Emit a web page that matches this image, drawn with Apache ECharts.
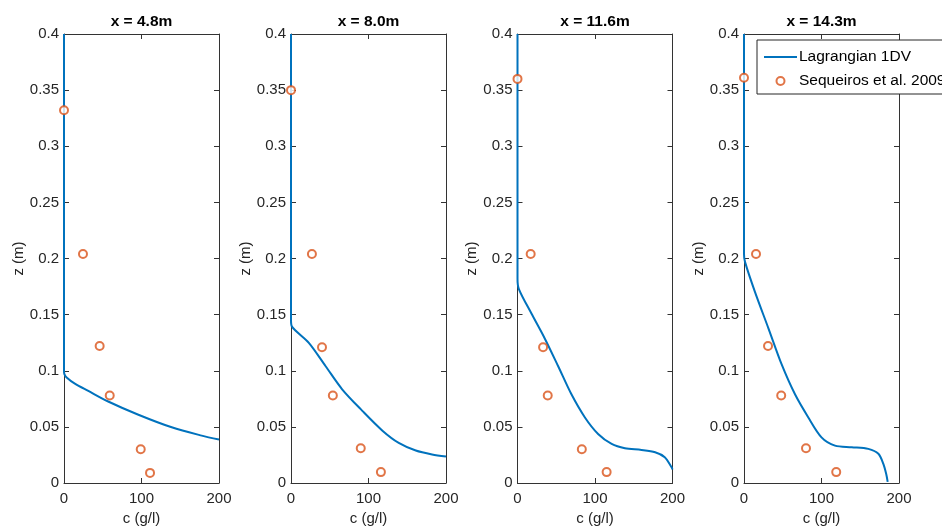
<!DOCTYPE html>
<html>
<head>
<meta charset="utf-8">
<script src="https://cdn.jsdelivr.net/npm/echarts@6/dist/echarts.min.js"></script>
<style>html,body{margin:0;padding:0;background:#fff}#c{width:942px;height:531px}</style>
</head>
<body>
<div id="c"></div>
<script>
// ---- data ----
var panelTitles = ['x = 4.8m', 'x = 8.0m', 'x = 11.6m', 'x = 14.3m'];
var xTicks = [0, 100, 200];
var yTicks = [0, 0.05, 0.1, 0.15, 0.2, 0.25, 0.3, 0.35, 0.4];

// Lagrangian 1DV model profiles (c in g/l, z in m)
var model1C = [0, 0, 0.5, 3.4, 14, 31.4, 57, 96, 139, 177.7, 200];
var model1Z = [0.4, 0.1, 0.097, 0.094, 0.0885, 0.082, 0.0726, 0.0608, 0.0496, 0.0422, 0.0387];
var model2C = [0, 0, 1.5, 23, 44.7, 66, 92, 118, 139, 161, 182, 200];
var model2Z = [0.4, 0.145, 0.139, 0.1248, 0.104, 0.0835, 0.0643, 0.0466, 0.0357, 0.0289, 0.0254, 0.0236];
var model3C = [0, 0, 1.8, 18, 35, 52.5, 69.6, 87, 104, 121.5, 138.6, 160, 177.6, 190, 198.6, 200];
var model3Z = [0.4, 0.182, 0.1728, 0.151, 0.129, 0.104, 0.079, 0.0584, 0.0437, 0.0348, 0.031, 0.0295, 0.0274, 0.023, 0.0142, 0.012];
var model4C = [0, 0, 1.3, 14, 31.4, 48.6, 65.8, 83, 100, 117.4, 139, 160.4, 173.4, 179.8, 183.5, 185.4];
var model4Z = [0.4, 0.204, 0.197, 0.1705, 0.138, 0.1056, 0.079, 0.0584, 0.0407, 0.0333, 0.0319, 0.0304, 0.026, 0.017, 0.008, 0.001];

// Sequeiros et al. 2009 measurements
var obs1C = [0, 24.5, 46, 59, 99, 111];
var obs1Z = [0.332, 0.204, 0.122, 0.078, 0.030, 0.009];
var obs2C = [0, 27, 40, 54, 90, 116];
var obs2Z = [0.350, 0.204, 0.121, 0.078, 0.031, 0.0097];
var obs3C = [0, 17, 33, 39, 83, 115];
var obs3Z = [0.360, 0.204, 0.121, 0.078, 0.030, 0.0097];
var obs4C = [0, 15.5, 31, 48, 80, 119];
var obs4Z = [0.361, 0.204, 0.122, 0.078, 0.031, 0.0097];

var modelC = [model1C, model2C, model3C, model4C];
var modelZ = [model1Z, model2Z, model3Z, model4Z];
var obsC = [obs1C, obs2C, obs3C, obs4C];
var obsZ = [obs1Z, obs2Z, obs3Z, obs4Z];

// ---- layout ----
var FONT = '"Liberation Sans", Arial, Helvetica, sans-serif';
var AX = '#333333';
var TXT = '#262626';
var gridLefts = [64, 291, 517.5, 744];
var gridW = 155, gridTop = 34, gridH = 452;

function pairs(a, b) { return a.map(function (v, i) { return [v, b[i]]; }); }

var grids = [], xAxes = [], yAxes = [], series = [], graphics = [];
for (var i = 0; i < 4; i++) {
  grids.push({ left: gridLefts[i], top: gridTop, width: gridW, height: gridH, containLabel: false });
  var tickCommon = { show: true, inside: true, length: 5, lineStyle: { color: AX, width: 1 } };
  xAxes.push({
    type: 'value', gridIndex: i, position: 'bottom', min: xTicks[0], max: xTicks[xTicks.length - 1], interval: 100,
    axisLine: { show: true, onZero: false, lineStyle: { color: AX, width: 1 } },
    axisTick: tickCommon, splitLine: { show: false },
    axisLabel: { color: TXT, fontSize: 15, fontFamily: FONT, margin: 8 },
    name: 'c (g/l)', nameLocation: 'middle', nameGap: 28,
    nameTextStyle: { color: TXT, fontSize: 15, fontFamily: FONT }
  });
  xAxes.push({
    type: 'value', gridIndex: i, position: 'top', min: 0, max: 200, interval: 100,
    axisLine: { show: true, onZero: false, lineStyle: { color: AX, width: 1 } },
    axisTick: tickCommon, splitLine: { show: false }, axisLabel: { show: false }
  });
  yAxes.push({
    type: 'value', gridIndex: i, position: 'left', min: yTicks[0], max: yTicks[yTicks.length - 1], interval: 0.05,
    axisLine: { show: true, onZero: false, lineStyle: { color: AX, width: 1 } },
    axisTick: tickCommon, splitLine: { show: false },
    axisLabel: { color: TXT, fontSize: 15, fontFamily: FONT, margin: 5 },
    name: 'z (m)', nameLocation: 'middle', nameGap: 34,
    nameTextStyle: { color: TXT, fontSize: 15, fontFamily: FONT }
  });
  yAxes.push({
    type: 'value', gridIndex: i, position: 'right', min: 0, max: 0.4, interval: 0.05,
    axisLine: { show: true, onZero: false, lineStyle: { color: AX, width: 1 } },
    axisTick: tickCommon, splitLine: { show: false }, axisLabel: { show: false }
  });
  series.push({
    name: 'Lagrangian 1DV', type: 'line', xAxisIndex: 2 * i, yAxisIndex: 2 * i,
    data: pairs(modelC[i], modelZ[i]), showSymbol: false, symbol: 'none', smooth: 0.3, clip: true,
    lineStyle: { color: '#0072BD', width: 2 }, itemStyle: { color: '#0072BD' }, z: 2
  });
  series.push({
    name: 'Sequeiros et al. 2009', type: 'scatter', xAxisIndex: 2 * i, yAxisIndex: 2 * i,
    data: pairs(obsC[i], obsZ[i]), symbol: 'emptyCircle', symbolSize: 8,
    itemStyle: { color: '#D95319', borderColor: '#D95319', borderWidth: 2 }, z: 3
  });
  graphics.push({
    type: 'text', x: gridLefts[i] + gridW / 2, y: 22,
    style: { text: panelTitles[i], fontSize: 15.5, fontWeight: 'bold', fontFamily: FONT, fill: '#000', textAlign: 'center', textVerticalAlign: 'middle' }
  });
}

var chart = echarts.init(document.getElementById('c'), null, { renderer: 'canvas' });
chart.setOption({
  backgroundColor: '#fff',
  animation: false,
  grid: grids,
  xAxis: xAxes,
  yAxis: yAxes,
  series: series,
  graphic: graphics,
  legend: {
    left: 757, top: 40, orient: 'vertical',
    data: [
      { name: 'Lagrangian 1DV', icon: 'path://M0,0 L33,0 L33,2 L0,2 Z', itemStyle: { color: '#0072BD', borderWidth: 0 } },
      { name: 'Sequeiros et al. 2009' }
    ],
    backgroundColor: '#fff', borderColor: '#262626', borderWidth: 1, borderRadius: 0,
    padding: [9, 10, 5, 7], itemGap: 8, itemWidth: 33, itemHeight: 8,
    textStyle: { color: '#000', fontSize: 15.5, fontFamily: FONT, padding: [0, 0, 0, -3] }
  }
});
</script>
</body>
</html>
